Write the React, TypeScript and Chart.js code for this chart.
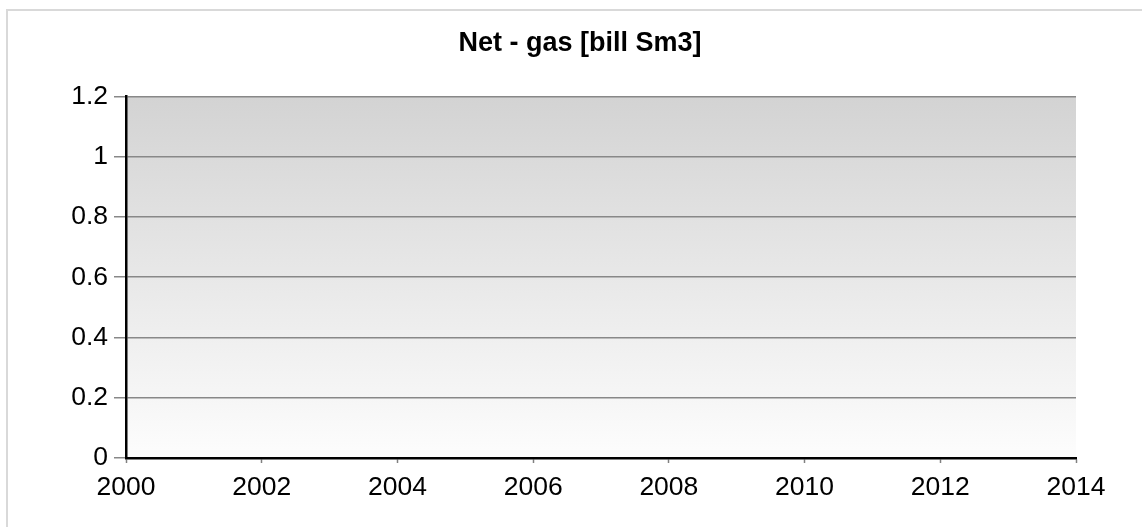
import React, { useEffect, useRef } from "react";
import { Chart, registerables } from "chart.js";

Chart.register(...registerables);

const titleText = "Net - gas [bill Sm3]";
const years: number[] = [2000, 2002, 2004, 2006, 2008, 2010, 2012, 2014];
const netGas: (number | null)[] = [];
const yTicks: number[] = [0, 0.2, 0.4, 0.6, 0.8, 1, 1.2];

const FONT = "'Liberation Sans', Arial, Helvetica, sans-serif";

const bgPlugin = {
  id: "plotBg",
  afterLayout(chart: any) {
    const tb = chart.titleBlock;
    if (tb) {
      tb.left = 84;
      tb.right = 1076;
    }
  },
  beforeDraw(chart: any) {
    const { ctx, chartArea } = chart;
    if (!chartArea) return;
    const g = ctx.createLinearGradient(0, chartArea.top, 0, chartArea.bottom);
    g.addColorStop(0, "#d3d3d3");
    g.addColorStop(1, "#fdfdfd");
    ctx.save();
    ctx.fillStyle = g;
    ctx.fillRect(chartArea.left, chartArea.top, chartArea.right - chartArea.left, chartArea.bottom - chartArea.top);
    ctx.restore();
  },
};

export default function App() {
  const ref = useRef<HTMLCanvasElement | null>(null);
  useEffect(() => {
    document.body.style.margin = "0";
    const chart = new Chart(ref.current as HTMLCanvasElement, {
      type: "line",
      data: {
        datasets: [
          {
            label: "Net gas",
            data: netGas.map((v, i) => ({ x: years[i], y: v })),
            borderColor: "#000",
          },
        ],
      },
      options: {
        animation: false,
        responsive: false,
        maintainAspectRatio: false,
        layout: { padding: { left: 0, right: 66, top: 0, bottom: 0 } },
        plugins: {
          legend: { display: false },
          tooltip: { enabled: false },
          title: {
            display: true,
            text: titleText,
            color: "#000",
            font: { family: FONT, size: 27, weight: "bold", lineHeight: 1.2 },
            padding: { top: 27, bottom: 37 },
          },
        },
        scales: {
          x: {
            type: "linear",
            min: years[0],
            max: years[years.length - 1],
            afterBuildTicks(scale: any) {
              scale.ticks = years.map((v) => ({ value: v }));
            },
            afterFit(scale: any) {
              scale.height = 69;
            },
            ticks: {
              color: "#000",
              font: { family: FONT, size: 26.5 },
              padding: 9,
              maxRotation: 0,
              autoSkip: false,
              callback: (v: any) => String(v),
            },
            grid: {
              drawOnChartArea: false,
              drawTicks: true,
              tickLength: 5,
              tickColor: "#808080",
              tickWidth: 1.5,
            },
            border: { display: true, color: "#000", width: 2.5 },
          },
          y: {
            type: "linear",
            min: 0,
            max: 1.2,
            afterBuildTicks(scale: any) {
              scale.ticks = yTicks.map((v) => ({ value: v }));
            },
            afterFit(scale: any) {
              scale.width = 126;
            },
            ticks: {
              color: "#000",
              font: { family: FONT, size: 26.5 },
              padding: 6,
              autoSkip: false,
              callback: (v: any) => String(parseFloat(Number(v).toFixed(1))),
            },
            grid: {
              drawOnChartArea: true,
              drawTicks: true,
              tickLength: 12,
              color: "#888888",
              lineWidth: 1.5,
              tickColor: "#888888",
            },
            border: { display: true, color: "#000", width: 2.5 },
          },
        },
      },
      plugins: [bgPlugin],
    } as any);
    return () => chart.destroy();
  }, []);

  return (
    <div style={{ position: "fixed", left: 0, top: 0, width: 1142, height: 527, background: "#fff", overflow: "hidden" }}>
      <div
        style={{
          position: "absolute",
          left: 6,
          top: 9,
          width: 1200,
          height: 600,
          borderLeft: "2px solid #d9d9d9",
          borderTop: "2px solid #d9d9d9",
        }}
      />
      <canvas ref={ref} width={1142} height={527} style={{ position: "absolute", left: 0, top: 0, width: 1142, height: 527 }} />
    </div>
  );
}
